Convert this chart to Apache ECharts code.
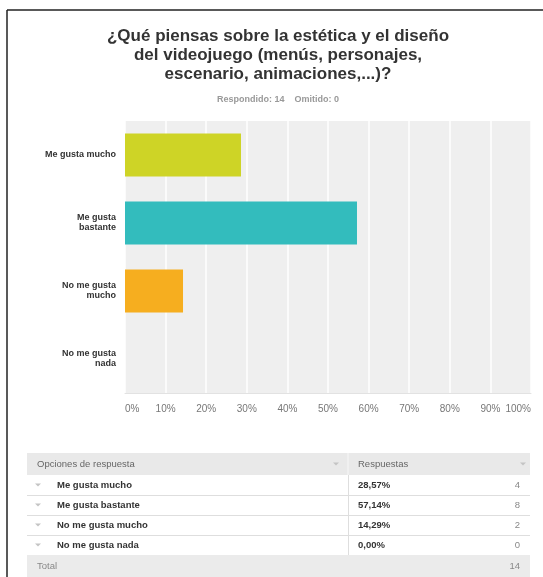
<!DOCTYPE html>
<html>
<head>
<meta charset="utf-8">
<script src="https://cdn.jsdelivr.net/npm/echarts@6/dist/echarts.min.js"></script>
<style>
  html, body { margin: 0; padding: 0; background: #fff; }
  #chart { width: 543px; height: 577px; }
</style>
</head>
<body>
<div id="chart"></div>
<script>
// Survey answers
const answerNames = ['Me gusta mucho', 'Me gusta bastante', 'No me gusta mucho', 'No me gusta nada'];
const axisNames = ['Me gusta mucho', 'Me gusta\nbastante', 'No me gusta\nmucho', 'No me gusta\nnada'];
const percentValues = [28.57, 57.14, 14.29, 0.00];
const answerCounts = [4, 8, 2, 0];
const totalAnswered = 14;
const totalSkipped = 0;
const xTicks = [0, 10, 20, 30, 40, 50, 60, 70, 80, 90, 100];

const barColors = ['#ced426', '#33bcbd', '#f6ae1f', '#9b9b9b'];
const FONT = 'Arial, "Liberation Sans", Helvetica, sans-serif';

const chart = echarts.init(document.getElementById('chart'), null, { renderer: 'canvas' });

function fmtPct(v) {
  return v.toFixed(2).replace('.', ',') + '%';
}

// Response table below the chart
const tbl = { left: 27, right: 530, top: 453, split: 348, headH: 22, rowH: 20 };
const tableEls = [];
const tw = tbl.right - tbl.left;
const cellFont = '9.5px ' + FONT;
const cellBold = 'bold 9.5px ' + FONT;
// header
tableEls.push({ type: 'rect', shape: { x: tbl.left, y: tbl.top, width: tw, height: tbl.headH }, style: { fill: '#e9e9e9' } });
tableEls.push({ type: 'line', shape: { x1: tbl.split, y1: tbl.top, x2: tbl.split, y2: tbl.top + tbl.headH }, style: { stroke: '#f7f7f7', lineWidth: 1 } });
tableEls.push({ type: 'text', x: tbl.left + 10, y: tbl.top + tbl.headH / 2, style: { text: 'Opciones de respuesta', font: cellFont, fill: '#666', verticalAlign: 'middle' } });
tableEls.push({ type: 'text', x: tbl.split + 10, y: tbl.top + tbl.headH / 2, style: { text: 'Respuestas', font: cellFont, fill: '#666', verticalAlign: 'middle' } });
function caret(cx, cy) {
  return { type: 'polygon', shape: { points: [[cx - 3, cy - 1.5], [cx + 3, cy - 1.5], [cx, cy + 1.5]] }, style: { fill: '#c4c4c4' } };
}
tableEls.push(caret(tbl.split - 12, tbl.top + tbl.headH / 2));
tableEls.push(caret(tbl.right - 7, tbl.top + tbl.headH / 2));
// body rows
const bodyTop = tbl.top + tbl.headH;
answerNames.forEach(function (name, i) {
  const y = bodyTop + i * tbl.rowH;
  const cy = y + tbl.rowH / 2;
  tableEls.push({ type: 'rect', shape: { x: tbl.left, y: y, width: tw, height: tbl.rowH }, style: { fill: '#fff' } });
  if (i > 0) {
    tableEls.push({ type: 'line', shape: { x1: tbl.left, y1: y + 0.5, x2: tbl.right, y2: y + 0.5 }, style: { stroke: '#dedede', lineWidth: 1 } });
  }
  tableEls.push(caret(tbl.left + 11, cy));
  tableEls.push({ type: 'text', x: tbl.left + 30, y: cy, style: { text: name, font: cellBold, fill: '#333', verticalAlign: 'middle' } });
  tableEls.push({ type: 'text', x: tbl.split + 10, y: cy, style: { text: fmtPct(percentValues[i]), font: cellBold, fill: '#333', verticalAlign: 'middle' } });
  tableEls.push({ type: 'text', x: tbl.right - 10, y: cy, style: { text: String(answerCounts[i]), font: cellFont, fill: '#888', align: 'right', verticalAlign: 'middle' } });
});
const bodyBottom = bodyTop + answerNames.length * tbl.rowH;
tableEls.push({ type: 'line', shape: { x1: tbl.split + 0.5, y1: bodyTop, x2: tbl.split + 0.5, y2: bodyBottom }, style: { stroke: '#dedede', lineWidth: 1 } });
// total row
tableEls.push({ type: 'rect', shape: { x: tbl.left, y: bodyBottom, width: tw, height: 577 - bodyBottom }, style: { fill: '#ebebeb' } });
tableEls.push({ type: 'text', x: tbl.left + 10, y: bodyBottom + (577 - bodyBottom) / 2, style: { text: 'Total', font: cellFont, fill: '#888', verticalAlign: 'middle' } });
tableEls.push({ type: 'text', x: tbl.right - 10, y: bodyBottom + (577 - bodyBottom) / 2, style: { text: String(totalAnswered), font: cellFont, fill: '#888', align: 'right', verticalAlign: 'middle' } });

// page frame
const frameEls = [
  { type: 'line', shape: { x1: 7, y1: 10, x2: 543, y2: 10 }, style: { stroke: '#222', lineWidth: 1.5 } },
  { type: 'line', shape: { x1: 7, y1: 10, x2: 7, y2: 577 }, style: { stroke: '#222', lineWidth: 1.5 } }
];

const option = {
  backgroundColor: '#fff',
  animation: false,
  title: [
    {
      text: '¿Qué piensas sobre la estética y el diseño\ndel videojuego (menús, personajes,\nescenario, animaciones,...)?',
      left: 273, top: 22, textAlign: 'center',
      textStyle: { fontFamily: FONT, fontSize: 17, fontWeight: 'bold', color: '#333', lineHeight: 19 }
    },
    {
      text: 'Respondido: ' + totalAnswered + '    Omitido: ' + totalSkipped,
      left: 273, top: 90, textAlign: 'center',
      textStyle: { fontFamily: FONT, fontSize: 9, fontWeight: 'bold', color: '#999' }
    }
  ],
  grid: {
    left: 125, right: 12, top: 121, bottom: 184,
    show: true, backgroundColor: '#efefef', borderWidth: 0
  },
  xAxis: {
    type: 'value', min: 0, max: 100, interval: 10,
    axisLine: { show: true, lineStyle: { color: '#e2e2e2', width: 1 } },
    axisTick: { show: false },
    splitLine: { show: true, lineStyle: { color: '#ffffff', width: 1.5 } },
    axisLabel: {
      formatter: function (v) { return xTicks.indexOf(v) >= 0 ? v + '%' : ''; },
      color: '#777', fontFamily: FONT, fontSize: 10, margin: 11,
      alignMinLabel: 'left', alignMaxLabel: 'right'
    }
  },
  yAxis: {
    type: 'category', inverse: true, data: axisNames,
    axisLine: { show: false }, axisTick: { show: false },
    axisLabel: {
      color: '#333', fontFamily: FONT, fontSize: 9, fontWeight: 'bold',
      lineHeight: 10, margin: 9, align: 'right'
    }
  },
  series: [{
    type: 'bar',
    barWidth: '63%',
    data: percentValues.map(function (v, i) {
      return { value: v, itemStyle: { color: barColors[i] } };
    }),
    silent: true
  }],
  graphic: { elements: frameEls.concat(tableEls) }
};

chart.setOption(option);
</script>
</body>
</html>
